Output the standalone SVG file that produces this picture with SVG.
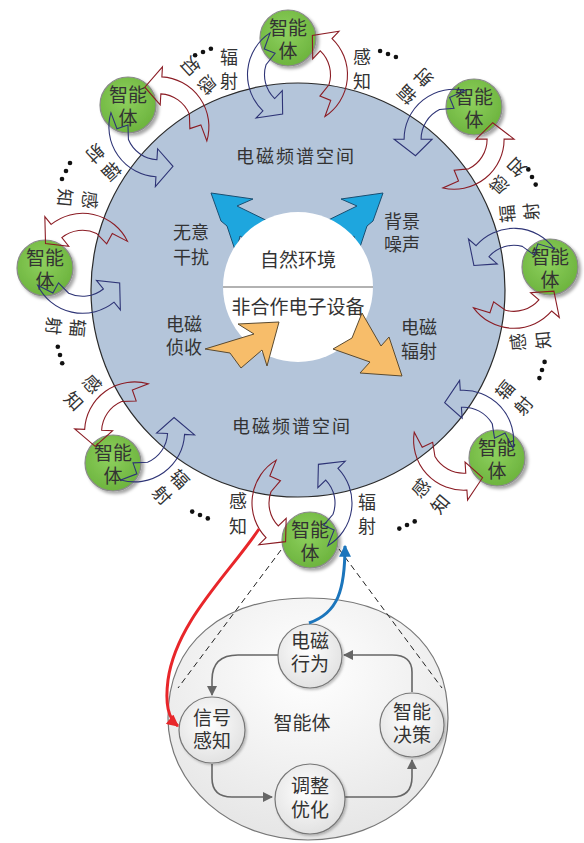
<svg xmlns="http://www.w3.org/2000/svg" xmlns:xlink="http://www.w3.org/1999/xlink" width="584" height="843" viewBox="0 0 584 843">
<style>
text{font-family:"Liberation Sans","Noto Sans CJK SC",sans-serif;fill:#333;text-anchor:middle;dominant-baseline:central}
.lab{font-size:18px}
.ag{font-size:19px}
.rad{fill:none;stroke:#2e3476;stroke-width:1.1}
.sen{fill:none;stroke:#8b1c24;stroke-width:1.1}
.dot{fill:#111}
.blue{fill:#1ea6de;stroke:#1b4f72;stroke-width:1}
.org{fill:#f7bd6a;stroke:#5a4a30;stroke-width:1}
.agc{fill:url(#gg);stroke:#8a8a8a;stroke-width:1.2;filter:url(#sh)}
.sc{fill:url(#wg);stroke:#777;stroke-width:1.2;filter:url(#sh2)}
.cn{fill:none;stroke:#666;stroke-width:1.6;marker-end:url(#ga)}
.dash{stroke:#222;stroke-width:1;stroke-dasharray:6,4;fill:none}
</style>
<defs>
<radialGradient id="gg" cx="0.45" cy="0.4" r="0.6"><stop offset="0" stop-color="#8ed05e"/><stop offset="1" stop-color="#6db43e"/></radialGradient>
<radialGradient id="wg" cx="0.45" cy="0.4" r="0.6"><stop offset="0" stop-color="#ffffff"/><stop offset="1" stop-color="#e2e2e2"/></radialGradient>
<radialGradient id="eg" cx="0.5" cy="0.3" r="0.75"><stop offset="0" stop-color="#ffffff"/><stop offset="1" stop-color="#e4e4e4"/></radialGradient>
<filter id="sh" x="-30%" y="-30%" width="160%" height="160%"><feDropShadow dx="2.5" dy="2.5" stdDeviation="1.5" flood-color="#000" flood-opacity="0.35"/></filter>
<filter id="sh2" x="-30%" y="-30%" width="160%" height="160%"><feDropShadow dx="1.5" dy="1.5" stdDeviation="1.2" flood-color="#000" flood-opacity="0.25"/></filter>
<marker id="ga" viewBox="0 0 10 10" refX="9" refY="5" markerWidth="11" markerHeight="10" markerUnits="userSpaceOnUse" orient="auto"><path d="M0,0 L10,5 L0,10 Z" fill="#666"/></marker>
<marker id="ra" viewBox="0 0 10 10" refX="9" refY="5" markerWidth="14" markerHeight="12" markerUnits="userSpaceOnUse" orient="auto"><path d="M0,0 L10,5 L0,10 Z" fill="#e8262a"/></marker>
<marker id="ba" viewBox="0 0 10 10" refX="9" refY="5" markerWidth="14" markerHeight="12" markerUnits="userSpaceOnUse" orient="auto"><path d="M0,0 L10,5 L0,10 Z" fill="#1b75bc"/></marker>
<g id="pair">
<path class="rad" d="M25.75,42.86 A50,50 0 0 0 35.97,-34.73 L43.16,-41.68 L16.41,-38.66 L15.83,-15.28 L23.74,-22.93 A33,33 0 0 1 31.01,11.29 L21.54,22.30 L32.17,27.00 Z"/>
<path class="sen" d="M-25.75,-42.86 A50,50 0 0 0 -35.97,34.73 L-43.16,41.68 L-16.41,38.66 L-15.83,15.28 L-23.74,22.93 A33,33 0 0 1 -31.01,-11.29 L-21.54,-22.30 L-32.17,-27.00 Z"/>
</g>
<path id="bl" d="M211,193 L253,199 L237,206 L282,228 L262,250 L240,236 L236,253 L227,226 L221,221 Z"/>
</defs>

<g id="space">
<circle cx="298" cy="290" r="207" fill="#b4c5da" stroke="#2a2a2a" stroke-width="1.2"/>
<text x="296" y="157" style="font-size:18px;letter-spacing:2px">电磁频谱空间</text>
<text x="292" y="427" style="font-size:18px;letter-spacing:2px">电磁频谱空间</text>
</g>

<g id="noise-arrows">
<use xlink:href="#bl" href="#bl" class="blue"/>
<use xlink:href="#bl" href="#bl" class="blue" transform="translate(594,0) scale(-1,1)"/>
</g>

<g id="environment">
<circle cx="298" cy="287" r="75" fill="#fff"/>
<line x1="223" y1="287" x2="373" y2="287" stroke="#666" stroke-width="1.2"/>
<text x="298" y="260" style="font-size:19px">自然环境</text>
<text x="298" y="307" style="font-size:19px">非合作电子设备</text>
</g>

<g id="em-arrows">
<path class="org" d="M279,322 L238,324 L254,334 L205,349 L230,353 L241,368 L262,350 L267,366 Z"/>
<path class="org" d="M362,313 L381,346 L389,337 L402,376 L360,373 L370,362 L333,349 L352,338 Z"/>
</g>

<g id="center-labels" class="lab">
<text x="191" y="233">无意</text><text x="191" y="258">干扰</text>
<text x="402" y="222">背景</text><text x="402" y="245">噪声</text>
<text x="184" y="325">电磁</text><text x="184" y="348">侦收</text>
<text x="419" y="328">电磁</text><text x="419" y="352">辐射</text>
</g>

<g id="agent-top"><circle class="agc" cx="288" cy="38" r="28"/><text class="ag" x="288" y="28">智能</text><text class="ag" x="288" y="51">体</text></g>
<g id="agent-ul"><circle class="agc" cx="128" cy="105" r="28"/><text class="ag" x="128" y="95">智能</text><text class="ag" x="128" y="118">体</text></g>
<g id="agent-ur"><circle class="agc" cx="474" cy="107" r="28"/><text class="ag" x="474" y="97">智能</text><text class="ag" x="474" y="120">体</text></g>
<g id="agent-l"><circle class="agc" cx="45" cy="268" r="28"/><text class="ag" x="45" y="258">智能</text><text class="ag" x="45" y="281">体</text></g>
<g id="agent-r"><circle class="agc" cx="550" cy="267" r="28"/><text class="ag" x="550" y="257">智能</text><text class="ag" x="550" y="280">体</text></g>
<g id="agent-ll"><circle class="agc" cx="113" cy="463" r="28"/><text class="ag" x="113" y="453">智能</text><text class="ag" x="113" y="476">体</text></g>
<g id="agent-lr"><circle class="agc" cx="497" cy="458" r="28"/><text class="ag" x="497" y="448">智能</text><text class="ag" x="497" y="471">体</text></g>
<g id="agent-b"><circle class="agc" cx="310" cy="540" r="28"/><text class="ag" x="310" y="530">智能</text><text class="ag" x="310" y="553">体</text></g>

<g id="connectors">
<g transform="translate(297.5,74.7) rotate(177.7)"><use xlink:href="#pair" href="#pair"/></g>
<g class="lab"><text x="229" y="58">辐</text><text x="229" y="82">射</text><text x="362" y="58">感</text><text x="362" y="82">知</text></g>
<g transform="translate(158.9,126.8) rotate(137.4)" class="lab"><use xlink:href="#pair" href="#pair"/><text x="-64" y="-1">感</text><text x="-64" y="24">知</text><text x="65" y="0">辐</text><text x="65" y="24">射</text></g>
<g transform="translate(454.1,139.2) rotate(-136.1)" class="lab"><use xlink:href="#pair" href="#pair"/><text x="-64" y="-1">感</text><text x="-64" y="24">知</text><text x="65" y="0">辐</text><text x="65" y="24">射</text></g>
<g transform="translate(82.6,263.3) rotate(95)" class="lab"><use xlink:href="#pair" href="#pair"/><text x="-64" y="-1">感</text><text x="-64" y="24">知</text><text x="65" y="0">辐</text><text x="65" y="24">射</text></g>
<g transform="translate(513.9,278.3) rotate(-95.2)" class="lab"><use xlink:href="#pair" href="#pair"/><text x="-64" y="-1">感</text><text x="-64" y="24">知</text><text x="65" y="0">辐</text><text x="65" y="24">射</text></g>
<g transform="translate(134.6,431.9) rotate(46.9)" class="lab"><use xlink:href="#pair" href="#pair"/><text x="-64" y="-1">感</text><text x="-64" y="24">知</text><text x="65" y="0">辐</text><text x="65" y="24">射</text></g>
<g transform="translate(463.6,440.2) rotate(-49.8)" class="lab"><use xlink:href="#pair" href="#pair"/><text x="-64" y="-1">感</text><text x="-64" y="24">知</text><text x="65" y="0">辐</text><text x="65" y="24">射</text></g>
<g transform="translate(302,503)" class="lab"><use xlink:href="#pair" href="#pair"/><text x="-64" y="-1">感</text><text x="-64" y="24">知</text><text x="65" y="0">辐</text><text x="65" y="24">射</text></g>
</g>

<g id="dots">
<circle class="dot" cx="195.1" cy="55.2" r="2.3"/><circle class="dot" cx="203" cy="52" r="2.3"/><circle class="dot" cx="210.9" cy="48.8" r="2.3"/>
<circle class="dot" cx="380.1" cy="51" r="2.3"/><circle class="dot" cx="388" cy="54" r="2.3"/><circle class="dot" cx="395.9" cy="57" r="2.3"/>
<circle class="dot" cx="528.3" cy="169.4" r="2.3"/><circle class="dot" cx="532" cy="177" r="2.3"/><circle class="dot" cx="535.7" cy="184.6" r="2.3"/>
<circle class="dot" cx="544.6" cy="361.9" r="2.3"/><circle class="dot" cx="542" cy="370" r="2.3"/><circle class="dot" cx="539.4" cy="378.1" r="2.3"/>
<circle class="dot" cx="414.7" cy="521.4" r="2.3"/><circle class="dot" cx="407" cy="525" r="2.3"/><circle class="dot" cx="399.3" cy="528.6" r="2.3"/>
<circle class="dot" cx="207.8" cy="518.4" r="2.3"/><circle class="dot" cx="200" cy="515" r="2.3"/><circle class="dot" cx="192.2" cy="511.6" r="2.3"/>
<circle class="dot" cx="62.2" cy="363.2" r="2.3"/><circle class="dot" cx="60" cy="355" r="2.3"/><circle class="dot" cx="57.8" cy="346.8" r="2.3"/>
<circle class="dot" cx="62" cy="179" r="2.3"/><circle class="dot" cx="66" cy="171" r="2.3"/><circle class="dot" cx="70" cy="163" r="2.3"/>
</g>

<g id="agent-detail">
<path d="M308,598 C221.2,598 168,643.6 168,718 C168,785 230,840 308,840 C386,840 448,785 448,718 C448,643.6 394.8,598 308,598 Z" fill="url(#eg)" stroke="#777" stroke-width="1.2"/>
<text x="302" y="723" style="font-size:19px">智能体</text>
</g>

<g id="zoom-lines">
<path class="dash" d="M281,550 L178,688"/>
<path class="dash" d="M339,549 L442,688"/>
</g>

<g id="loop">
<path class="cn" d="M278,655 L238,655 Q212,655 212,680 L212,695"/>
<path class="cn" d="M212,764 L212,778 Q212,797 232,797 L272,797"/>
<path class="cn" d="M345,797 L392,797 Q412,797 412,777 L412,760"/>
<path class="cn" d="M412,692 L412,672 Q412,655 392,655 L344,655"/>
</g>

<g id="node-behavior"><circle class="sc" cx="310" cy="656" r="32"/><text class="ag" x="310" y="641">电磁</text><text class="ag" x="310" y="664">行为</text></g>
<g id="node-sense"><circle class="sc" cx="212" cy="730" r="33"/><text class="ag" x="212" y="718">信号</text><text class="ag" x="212" y="741">感知</text></g>
<g id="node-decide"><circle class="sc" cx="412" cy="725" r="32"/><text class="ag" x="412" y="712">智能</text><text class="ag" x="412" y="735">决策</text></g>
<g id="node-adjust"><circle class="sc" cx="310" cy="799" r="35"/><text class="ag" x="310" y="786">调整</text><text class="ag" x="310" y="810">优化</text></g>

<g id="links">
<path d="M259,529 C228,575 176,622 168,680 C165,704 168,718 178,726" fill="none" stroke="#e8262a" stroke-width="3" marker-end="url(#ra)"/>
<path d="M309,623 C338,613 345,590 345,546" fill="none" stroke="#1b75bc" stroke-width="3" marker-end="url(#ba)"/>
</g>
</svg>
